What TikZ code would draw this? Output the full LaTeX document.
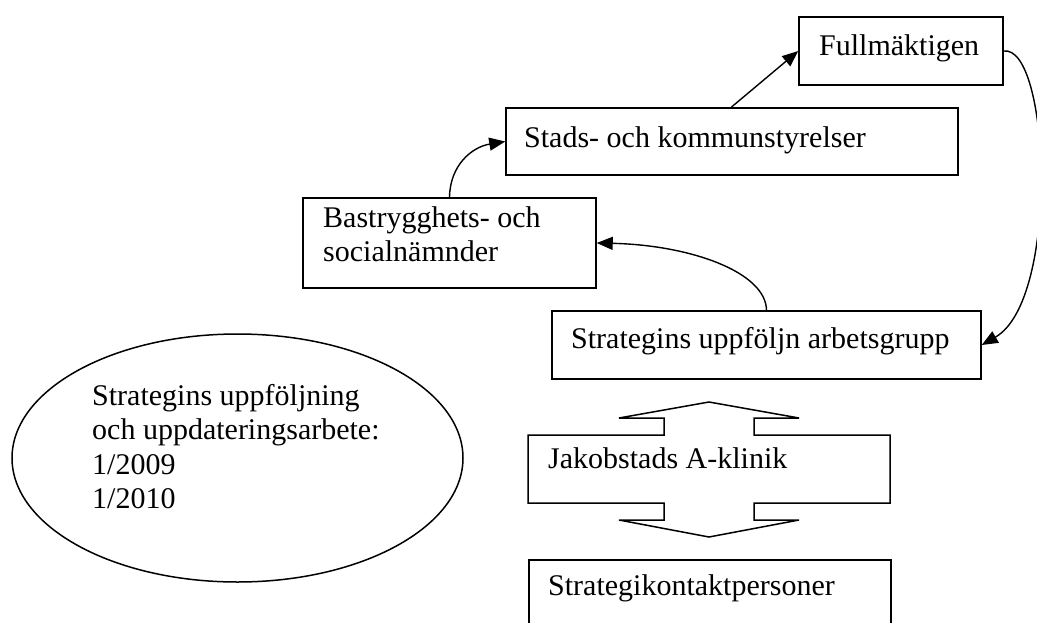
\documentclass[tikz,border=0pt]{standalone}
\usepackage{fontspec}
\setmainfont{Liberation Serif}
\usetikzlibrary{arrows.meta,shapes.geometric}

\begin{document}
\begin{tikzpicture}[x=1pt,y=-1pt,
  box/.style={draw,line width=1.5pt,rectangle,inner sep=0pt},
  txt/.style={anchor=base west,inner sep=0pt,font=\fontsize{30}{34.5}\selectfont},
  link/.style={line width=1.4pt,-{Triangle[length=16pt,width=13pt]}},
]
\useasboundingbox (0,0) rectangle (1037,622);
\fill[white] (0,0) rectangle (1037,622);
\clip (0,0) rectangle (1037,622);

% boxes
\node[box,minimum width=204pt,minimum height=68pt] (full) at (901,51) {};
\node[box,minimum width=452pt,minimum height=67pt] (stads) at (732,141.5) {};
\node[box,minimum width=293pt,minimum height=90pt] (bas) at (449.5,243) {};
\node[box,minimum width=429pt,minimum height=68pt] (strat) at (766.5,345) {};
\node[box,minimum width=362pt,minimum height=80pt,anchor=north west] (kont) at (528,559) {};
\node[draw,line width=1.5pt,ellipse,minimum width=451pt,minimum height=248pt,inner sep=0pt] (oval) at (237.5,458) {};

% box with up and down arrows
\draw[line width=1.5pt,line join=miter]
  (528,435) -- (664,435) -- (664,418) -- (619,418) -- (709,402) -- (799,418)
  -- (754,418) -- (754,435) -- (890,435) -- (890,503) -- (754,503) -- (754,520)
  -- (799,520) -- (709,537) -- (619,520) -- (664,520) -- (664,503) -- (528,503) -- cycle;

% texts
\node[txt] (tfull) at (819,55) {Fullmäktigen};
\node[txt] (tstads) at (524,147) {Stads- och kommunstyrelser};
\node[txt] (tbas) at (323,227) {\vtop{\baselineskip=34.5pt\hbox{Bastrygghets- och}\hbox{socialnämnder}}};
\node[txt] (tstrat) at (571,348) {Strategins uppföljn arbetsgrupp};
\node[txt] (tjak) at (548,468) {Jakobstads A-klinik};
\node[txt] (tkont) at (548,595) {Strategikontaktpersoner};
\node[txt] (toval) at (92,405) {\vtop{\baselineskip=34.5pt\hbox{Strategins uppföljning}\hbox{och uppdateringsarbete:}\hbox{1/2009}\hbox{1/2010}}};

% connectors
\draw[link] (stads.north west) ++(226,0) coordinate (s1) -- (full.west);
\draw[link] (bas.north) .. controls (450,165) and (472,147) .. (stads.west);
\draw[link] (strat.north) .. controls (766,272) and (690,245) .. (bas.east);
\draw[link] (full.east) .. controls (1050,45) and (1060,300) .. (strat.east);
\end{tikzpicture}
\end{document}
